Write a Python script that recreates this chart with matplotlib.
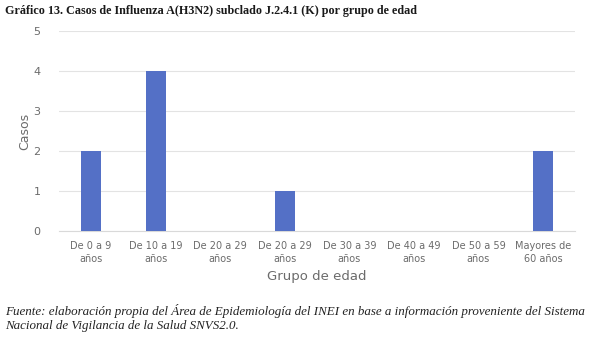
import matplotlib
matplotlib.use("Agg")
import matplotlib.pyplot as plt

categorias = ["De 0 a 9\naños", "De 10 a 19\naños", "De 20 a 29\naños", "De 20 a 29\naños",
              "De 30 a 39\naños", "De 40 a 49\naños", "De 50 a 59\naños", "Mayores de\n60 años"]
casos = [2, 4, 0, 1, 0, 0, 0, 2]
yticks = [0, 1, 2, 3, 4, 5]

titulo = "Gráfico 13. Casos de Influenza A(H3N2) subclado J.2.4.1 (K) por grupo de edad"
fuente = ["Fuente: elaboración propia del Área de Epidemiología del INEI en base a información proveniente del Sistema",
          "Nacional de Vigilancia de la Salud SNVS2.0."]

W, H = 610, 340
fig = plt.figure(figsize=(W / 100, H / 100), dpi=100)
ax = fig.add_axes([58.7 / W, 1 - 231 / H, (575.3 - 58.7) / W, 200 / H])

gris = "#6b6b6b"
x = list(range(len(categorias)))
ax.bar(x, casos, width=0.31, color="#5470c6", zorder=3)
ax.set_xlim(-0.5, len(categorias) - 0.5)
ax.set_ylim(0, 5)
ax.set_yticks(yticks)
ax.set_xticks(x)
ax.set_xticklabels(categorias, fontsize=7, color=gris, family="DejaVu Sans", linespacing=1.4)
ax.set_yticklabels([str(v) for v in yticks], fontsize=8, color=gris, family="DejaVu Sans")
ax.grid(axis="y", color="#e3e3e3", linewidth=0.8, zorder=0)
for s in ["top", "right", "left"]:
    ax.spines[s].set_visible(False)
ax.spines["bottom"].set_color("#d9d9d9")
ax.spines["bottom"].set_linewidth(0.8)
ax.tick_params(axis="x", length=0, pad=7)
ax.tick_params(axis="y", length=0, pad=13)
ax.set_ylabel("Casos", fontsize=9, color=gris, family="DejaVu Sans")
ax.yaxis.set_label_coords(-(58.7 - 31) / (575.3 - 58.7), 0.5)
ax.set_xlabel("Grupo de edad", fontsize=9.5, color=gris, family="DejaVu Sans", labelpad=4.5)

renderer = fig.canvas.get_renderer()


def ajustar(t, ancho):
    bb = t.get_window_extent(renderer)
    t.set_fontsize(t.get_fontsize() * ancho / bb.width)


tt = fig.text(5 / W, 1 - 11 / H, titulo, fontsize=8, fontweight="bold",
              family="Liberation Serif", color="#1a1a1a", va="center", ha="left")
ajustar(tt, 411)

f1 = fig.text(5 / W, 1 - 311 / H, fuente[0], fontsize=7, style="italic",
              family="Liberation Serif", color="#222222", va="center", ha="left")
ajustar(f1, 585)
f2 = fig.text(5 / W, 1 - 326 / H, fuente[1], fontsize=f1.get_fontsize(), style="italic",
              family="Liberation Serif", color="#222222", va="center", ha="left")

fig.savefig("out.png", dpi=100)
